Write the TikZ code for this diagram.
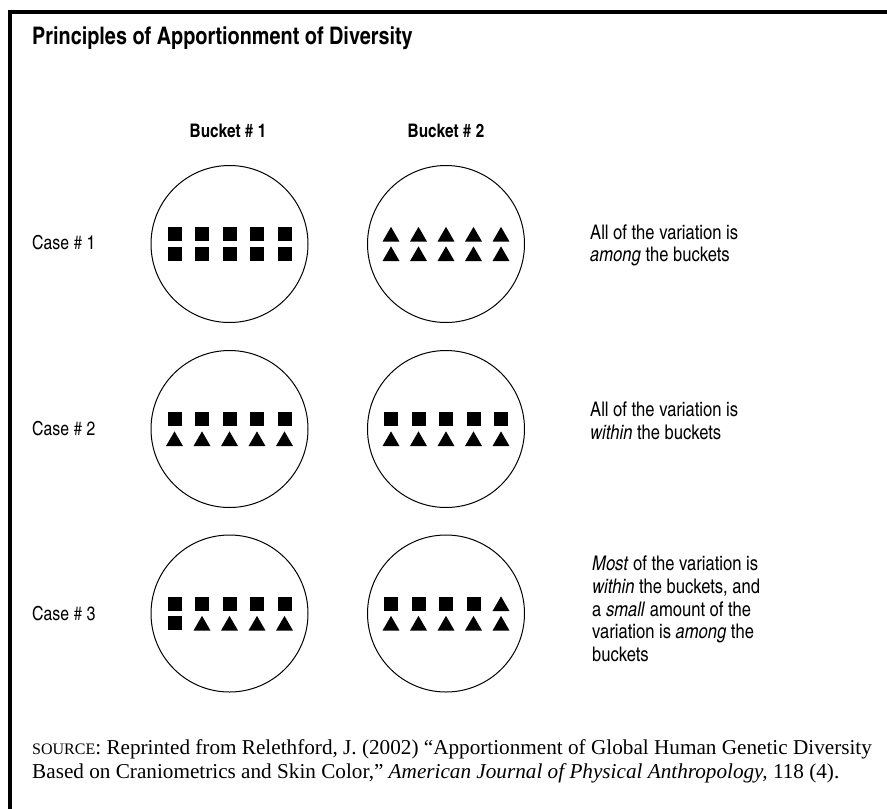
\documentclass[tikz,border=0pt]{standalone}
\usepackage{fontspec}
\setmainfont{Liberation Serif}
\newfontfamily\cnfont{texgyreheroscn}[Extension=.otf,UprightFont=*-regular,BoldFont=*-bold,ItalicFont=*-italic,BoldItalicFont=*-bolditalic]
\usetikzlibrary{shapes.geometric}

\begin{document}
\begin{tikzpicture}[x=1pt,y=-1pt,
	bucket/.style={shape=circle,draw=black,line width=1pt,minimum size=157pt,inner sep=0pt},
	sqmark/.style={shape=rectangle,fill=black,minimum size=14pt,inner sep=0pt},
	trimark/.style={shape=regular polygon,regular polygon sides=3,fill=black,minimum size=19.6pt,inner sep=0pt,yshift=-2.4pt},
	headlabel/.style={font=\cnfont\bfseries\fontsize{18.7}{20}\selectfont},
	caselabel/.style={anchor=west,inner sep=0pt,font=\cnfont\fontsize{19.3}{22}\selectfont},
	notetext/.style={anchor=west,align=left,inner sep=0pt,font=\cnfont\fontsize{20.2}{22.7}\selectfont}]
	\useasboundingbox (0,0) rectangle (887,809);
	\draw[line width=4.5pt] (10,809) -- (10,12) -- (887,12);

	\node[anchor=base west,inner sep=0pt,font=\cnfont\bfseries\fontsize{24.2}{26}\selectfont] (title) at (32,44.5) {Principles of Apportionment of Diversity};

	\node[headlabel] (h1) at (228,131) {Bucket \# 1};
	\node[headlabel] (h2) at (446,131) {Bucket \# 2};

	\node[caselabel] (c1) at (32,243)   {Case \# 1};
	\node[caselabel] (c2) at (32,429)   {Case \# 2};
	\node[caselabel] (c3) at (32,613.5) {Case \# 3};

	% buckets with their two rows of marks
	\foreach \nm/\cx/\cy/\up/\dn in {
		b11/229.5/244/{sqmark,sqmark,sqmark,sqmark,sqmark}/{sqmark,sqmark,sqmark,sqmark,sqmark},
		b12/446/244/{trimark,trimark,trimark,trimark,trimark}/{trimark,trimark,trimark,trimark,trimark},
		b21/229.5/429/{sqmark,sqmark,sqmark,sqmark,sqmark}/{trimark,trimark,trimark,trimark,trimark},
		b22/446/429/{sqmark,sqmark,sqmark,sqmark,sqmark}/{trimark,trimark,trimark,trimark,trimark},
		b31/229.5/613.5/{sqmark,sqmark,sqmark,sqmark,sqmark}/{sqmark,trimark,trimark,trimark,trimark},
		b32/446/613.5/{sqmark,sqmark,sqmark,sqmark,trimark}/{trimark,trimark,trimark,trimark,trimark}}{
		\node[bucket] (\nm) at (\cx,\cy) {};
		\foreach \s [count=\k] in \up
			\node[\s] (\nm-u\k) at (\cx+27.5*\k-82.5,\cy-9.75) {};
		\foreach \s [count=\k] in \dn
			\node[\s] (\nm-d\k) at (\cx+27.5*\k-82.5,\cy+9.75) {};
	}

	\node[notetext] (n1) at (590,245.5) {All of the variation is\\\textit{among} the buckets};
	\node[notetext] (n2) at (590,421) {All of the variation is\\\textit{within} the buckets};
	\node[notetext] (n3) at (592,609) {\textit{Most} of the variation is\\\textit{within} the buckets, and\\a \textit{small} amount of the\\variation is \textit{among} the\\buckets};

	\node[anchor=north west,align=left,inner sep=0pt,font=\fontsize{21.2}{24}\selectfont] (src) at (32,739)
		{{\fontsize{16}{24}\selectfont SOURCE}: Reprinted from Relethford, J. (2002) “Apportionment of Global Human Genetic Diversity\\Based on Craniometrics and Skin Color,” \textit{American Journal of Physical Anthropology,} 118 (4).};
\end{tikzpicture}
\end{document}
